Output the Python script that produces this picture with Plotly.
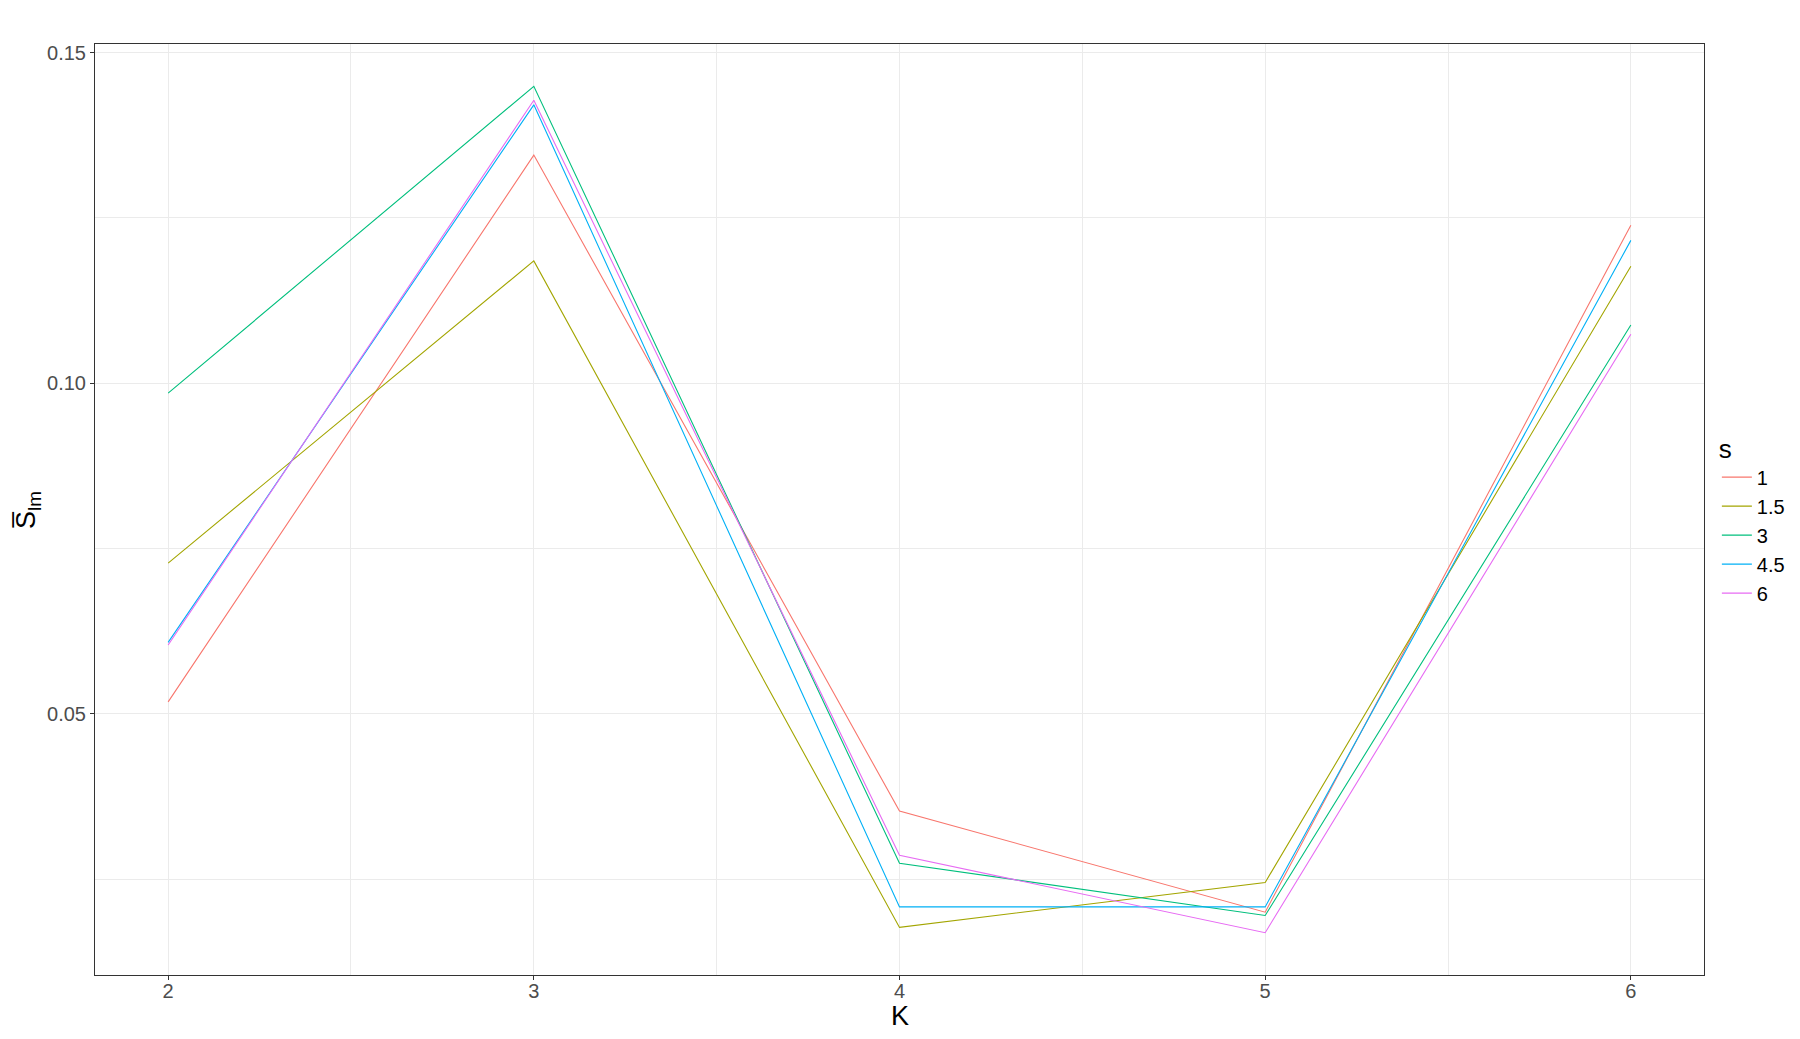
import plotly.graph_objects as go

K = [2, 3, 4, 5, 6]
s_levels = ["1", "1.5", "3", "4.5", "6"]
s1 = [0.0518, 0.1345, 0.0353, 0.0200, 0.1239]
s15 = [0.0728, 0.1185, 0.0177, 0.0245, 0.1177]
s3 = [0.0985, 0.1449, 0.0274, 0.0195, 0.1088]
s45 = [0.0608, 0.1421, 0.0208, 0.0208, 0.1216]
s6 = [0.0604, 0.1428, 0.0286, 0.0169, 0.1074]
series = [s1, s15, s3, s45, s6]
colors = ["#F8766D", "#A3A500", "#00BF7D", "#00B0F6", "#E76BF3"]

y_ticks = [0.05, 0.10, 0.15]
y_tick_labels = ["0.05", "0.10", "0.15"]

FONT = "Liberation Sans, Arial, sans-serif"

fig = go.Figure()
for name, vals, col in zip(s_levels, series, colors):
    fig.add_trace(go.Scatter(x=K, y=vals, mode="lines", name=name,
                             line=dict(color=col, width=1.1)))

ymin = min(min(v) for v in series)
ymax = max(max(v) for v in series)
pad = (ymax - ymin) * 0.05

fig.update_layout(
    width=1792, height=1031,
    paper_bgcolor="white", plot_bgcolor="white",
    margin=dict(l=87, r=96, t=36, b=64, autoexpand=False),
    font=dict(family=FONT, color="#000000"),
    legend=dict(
        title=dict(text="s", font=dict(size=26, color="#000000")),
        font=dict(size=20, color="#000000"),
        x=1.008, y=0.592, xanchor="left", yanchor="top",
        tracegroupgap=0, itemwidth=30,
        bgcolor="rgba(0,0,0,0)",
    ),
    xaxis=dict(
        range=[1.8, 6.2], tickvals=K, ticktext=[str(k) for k in K],
        showgrid=True, gridcolor="#EBEBEB", gridwidth=1,
        minor=dict(dtick=0.5, tick0=1.5, showgrid=True, gridcolor="#EBEBEB", gridwidth=1),
        ticks="outside", ticklen=4, tickcolor="#333333",
        tickfont=dict(size=20, color="#4D4D4D"),
        ticklabelstandoff=-6,
        showline=True, linecolor="#333333", linewidth=1, mirror=True,
        zeroline=False,
    ),
    yaxis=dict(
        range=[ymin - pad, ymax + pad], tickvals=y_ticks, ticktext=y_tick_labels,
        showgrid=True, gridcolor="#EBEBEB", gridwidth=1,
        minor=dict(dtick=0.025, tick0=0, showgrid=True, gridcolor="#EBEBEB", gridwidth=1),
        ticks="outside", ticklen=4, tickcolor="#333333",
        tickfont=dict(size=20, color="#4D4D4D"),
        showline=True, linecolor="#333333", linewidth=1, mirror=True,
        zeroline=False,
    ),
    annotations=[
        dict(
            text="S\u0305<sub>lm</sub>", xref="paper", yref="paper",
            x=-0.042, y=0.5, xanchor="center", yanchor="middle",
            textangle=-90, showarrow=False,
            font=dict(size=27, color="#000000", family=FONT),
        ),
        dict(
            text="K", xref="paper", yref="paper",
            x=0.5, y=-0.044, xanchor="center", yanchor="middle",
            showarrow=False,
            font=dict(size=27, color="#000000", family=FONT),
        ),
    ],
)

fig.write_html("out.html")
